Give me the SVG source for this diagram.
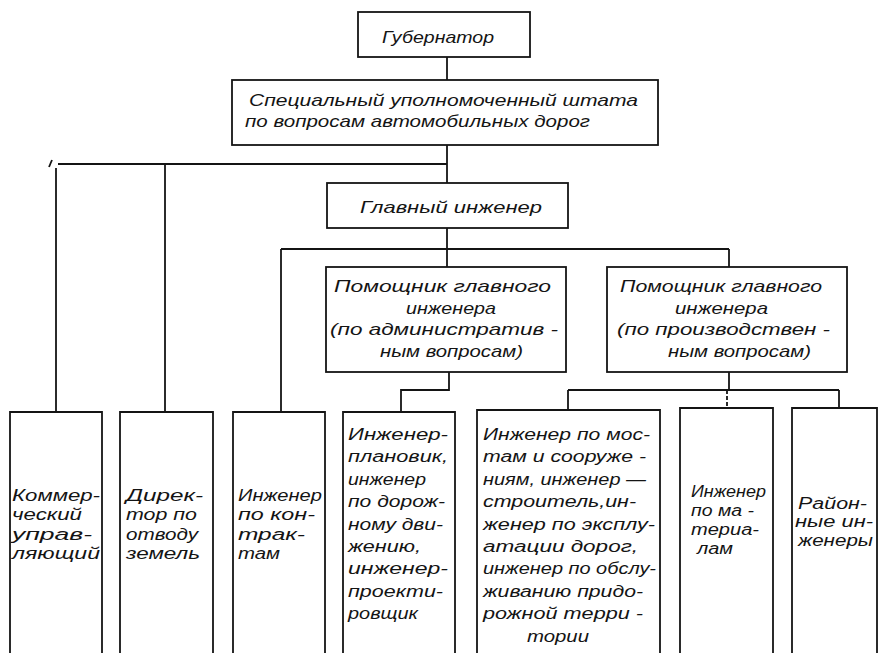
<svg xmlns="http://www.w3.org/2000/svg" width="879" height="653" viewBox="0 0 879 653">
  <style>
    .box { fill: none; stroke: #141414; stroke-width: 1.8; }
    .ln { fill: none; stroke: #141414; stroke-width: 1.8; }
    .t { font-family: "Liberation Sans", Arial, sans-serif; font-style: italic; font-size: 17px; fill: #141414; }
    .s { font-size: 16px; }
  </style>
  <rect width="879" height="653" fill="#ffffff"/>

  <!-- connectors -->
  <g id="connectors">
    <path class="ln" d="M447,57 V80"/>
    <path class="ln" d="M447,145 V183"/>
    <path class="ln" d="M58,164 H447"/>
    <path class="ln" d="M49,167 L52,160" stroke-width="1.2"/>
    <path class="ln" d="M56,168 V412"/>
    <path class="ln" d="M165,164 V412"/>
    <path class="ln" d="M447,228 V267"/>
    <path class="ln" d="M281,249 H729"/>
    <path class="ln" d="M281,249 V412"/>
    <path class="ln" d="M729,249 V267"/>
    <path class="ln" d="M449,372 V390 H401 V412"/>
    <path class="ln" d="M729,372 V390"/>
    <path class="ln" d="M568,390 H839"/>
    <path class="ln" d="M568,390 V410"/>
    <path class="ln" d="M727,390 V408" stroke-dasharray="4 2"/>
    <path class="ln" d="M839,390 V408"/>
  </g>

  <g id="governor">
    <rect class="box" x="358" y="12" width="172" height="45"/>
    <text class="t" x="382" y="43" textLength="112" lengthAdjust="spacingAndGlyphs">Губернатор</text>
  </g>

  <g id="special-commissioner">
    <rect class="box" x="232" y="80" width="426" height="65"/>
    <text class="t" x="249" y="106" textLength="389" lengthAdjust="spacingAndGlyphs">Специальный уполномоченный  штата</text>
    <text class="t" x="245" y="127" textLength="345" lengthAdjust="spacingAndGlyphs">по вопросам автомобильных дорог</text>
  </g>

  <g id="chief-engineer">
    <rect class="box" x="327" y="183" width="241" height="45"/>
    <text class="t" x="360" y="213" textLength="182" lengthAdjust="spacingAndGlyphs">Главный инженер</text>
  </g>

  <g id="assistant-admin">
    <rect class="box" x="326" y="267" width="240" height="105"/>
    <text class="t" x="334" y="292" textLength="217" lengthAdjust="spacingAndGlyphs">Помощник  главного</text>
    <text class="t" x="406" y="314" textLength="90" lengthAdjust="spacingAndGlyphs">инженера</text>
    <text class="t" x="330" y="335" textLength="228" lengthAdjust="spacingAndGlyphs">(по административ -</text>
    <text class="t" x="380" y="357" textLength="143" lengthAdjust="spacingAndGlyphs">ным вопросам)</text>
  </g>

  <g id="assistant-production">
    <rect class="box" x="607" y="267" width="240" height="105"/>
    <text class="t" x="620" y="292" textLength="202" lengthAdjust="spacingAndGlyphs">Помощник главного</text>
    <text class="t" x="675" y="314" textLength="93" lengthAdjust="spacingAndGlyphs">инженера</text>
    <text class="t" x="617" y="335" textLength="213" lengthAdjust="spacingAndGlyphs">(по производствен -</text>
    <text class="t" x="668" y="357" textLength="143" lengthAdjust="spacingAndGlyphs">ным вопросам)</text>
  </g>

  <!-- bottom row: tall columns running off the lower edge -->
  <g id="commercial-manager">
    <path class="box" d="M10,653 V412 H102 V653"/>
    <text class="t s" x="12" y="501" textLength="88" lengthAdjust="spacingAndGlyphs">Коммер-</text>
    <text class="t s" x="12" y="520" textLength="70" lengthAdjust="spacingAndGlyphs">ческий</text>
    <text class="t s" x="12" y="540" textLength="80" lengthAdjust="spacingAndGlyphs">управ-</text>
    <text class="t s" x="12" y="559" textLength="88" lengthAdjust="spacingAndGlyphs">ляющий</text>
  </g>

  <g id="land-director">
    <path class="box" d="M120,653 V412 H213 V653"/>
    <text class="t s" x="126" y="501" textLength="77" lengthAdjust="spacingAndGlyphs">Дирек-</text>
    <text class="t s" x="126" y="520" textLength="71" lengthAdjust="spacingAndGlyphs">тор по</text>
    <text class="t s" x="126" y="540" textLength="72" lengthAdjust="spacingAndGlyphs">отводу</text>
    <text class="t s" x="126" y="559" textLength="74" lengthAdjust="spacingAndGlyphs">земель</text>
  </g>

  <g id="contracts-engineer">
    <path class="box" d="M233,653 V412 H325 V653"/>
    <text class="t s" x="238" y="501" textLength="84" lengthAdjust="spacingAndGlyphs">Инженер</text>
    <text class="t s" x="238" y="520" textLength="77" lengthAdjust="spacingAndGlyphs">по кон-</text>
    <text class="t s" x="238" y="540" textLength="67" lengthAdjust="spacingAndGlyphs">трак-</text>
    <text class="t s" x="238" y="559" textLength="42" lengthAdjust="spacingAndGlyphs">там</text>
  </g>

  <g id="planning-engineers">
    <path class="box" d="M343,653 V412 H455 V653"/>
    <text class="t s" x="348" y="440" textLength="100" lengthAdjust="spacingAndGlyphs">Инженер-</text>
    <text class="t s" x="348" y="462" textLength="100" lengthAdjust="spacingAndGlyphs">плановик,</text>
    <text class="t s" x="348" y="485" textLength="78" lengthAdjust="spacingAndGlyphs">инженер</text>
    <text class="t s" x="348" y="507" textLength="97" lengthAdjust="spacingAndGlyphs">по дорож-</text>
    <text class="t s" x="348" y="530" textLength="95" lengthAdjust="spacingAndGlyphs">ному дви-</text>
    <text class="t s" x="348" y="552" textLength="73" lengthAdjust="spacingAndGlyphs">жению,</text>
    <text class="t s" x="348" y="574" textLength="100" lengthAdjust="spacingAndGlyphs">инженер-</text>
    <text class="t s" x="348" y="597" textLength="95" lengthAdjust="spacingAndGlyphs">проекти-</text>
    <text class="t s" x="348" y="619" textLength="70" lengthAdjust="spacingAndGlyphs">ровщик</text>
  </g>

  <g id="bridge-and-road-engineers">
    <path class="box" d="M477,653 V410 H660 V653"/>
    <text class="t s" x="483" y="440" textLength="167" lengthAdjust="spacingAndGlyphs">Инженер по мос-</text>
    <text class="t s" x="483" y="462" textLength="163" lengthAdjust="spacingAndGlyphs">там и сооруже -</text>
    <text class="t s" x="483" y="485" textLength="163" lengthAdjust="spacingAndGlyphs">ниям, инженер —</text>
    <text class="t s" x="483" y="507" textLength="153" lengthAdjust="spacingAndGlyphs">строитель,ин-</text>
    <text class="t s" x="483" y="530" textLength="172" lengthAdjust="spacingAndGlyphs">женер по эксплу-</text>
    <text class="t s" x="483" y="552" textLength="155" lengthAdjust="spacingAndGlyphs">атации  дорог,</text>
    <text class="t s" x="483" y="574" textLength="173" lengthAdjust="spacingAndGlyphs">инженер по обслу-</text>
    <text class="t s" x="483" y="597" textLength="160" lengthAdjust="spacingAndGlyphs">живанию придо-</text>
    <text class="t s" x="483" y="619" textLength="160" lengthAdjust="spacingAndGlyphs">рожной терри -</text>
    <text class="t s" x="527" y="642" textLength="62" lengthAdjust="spacingAndGlyphs">тории</text>
  </g>

  <g id="materials-engineer">
    <path class="box" d="M680,653 V408 H773 V653"/>
    <text class="t s" x="691" y="497" textLength="75" lengthAdjust="spacingAndGlyphs">Инженер</text>
    <text class="t s" x="691" y="516" textLength="63" lengthAdjust="spacingAndGlyphs">по ма -</text>
    <text class="t s" x="691" y="535" textLength="68" lengthAdjust="spacingAndGlyphs">териа-</text>
    <text class="t s" x="697" y="554" textLength="36" lengthAdjust="spacingAndGlyphs">лам</text>
  </g>

  <g id="district-engineers">
    <path class="box" d="M792,653 V408 H877 V653"/>
    <text class="t s" x="798" y="509" textLength="69" lengthAdjust="spacingAndGlyphs">Район-</text>
    <text class="t s" x="795" y="527" textLength="78" lengthAdjust="spacingAndGlyphs">ные ин-</text>
    <text class="t s" x="798" y="546" textLength="75" lengthAdjust="spacingAndGlyphs">женеры</text>
  </g>
</svg>
